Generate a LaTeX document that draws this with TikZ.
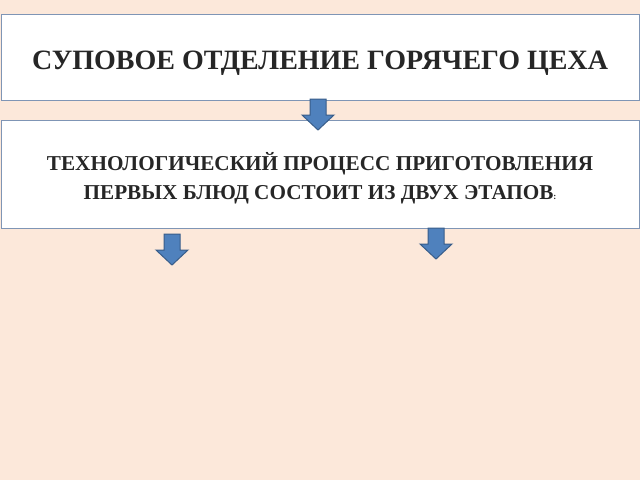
\documentclass[tikz,border=0pt]{standalone}
\usepackage{fontspec}
\setmainfont{Liberation Serif}
\definecolor{bg}{HTML}{FCE8DA}
\definecolor{bord}{HTML}{7F95B5}
\definecolor{arr}{HTML}{4F81BD}
\definecolor{arrb}{HTML}{385D8A}
\begin{document}
\begin{tikzpicture}[x=1pt,y=-1pt,
  box/.style={draw=bord,line width=1pt,fill=white,anchor=north west,inner sep=0pt,align=center,text=black!85},
  barrow/.pic={\filldraw[fill=arr,draw=arrb,line width=1pt] (-8,0) -- (8,0) -- (8,16) -- (16,16) -- (0,31) -- (-16,16) -- (-8,16) -- cycle;}]
\fill[bg] (0,0) rectangle (640,480);
\useasboundingbox (0,0) rectangle (640,480);
\draw[bord,line width=1pt,fill=white] (1,14) rectangle (639,100);
\node[align=center,text=black!85,font=\fontsize{28}{32}\selectfont\bfseries] (t) at (320,63) {СУПОВОЕ ОТДЕЛЕНИЕ ГОРЯЧЕГО ЦЕХА};
\draw[bord,line width=1pt,fill=white] (1,120) rectangle (639,228);
\node[align=center,text=black!85,font=\fontsize{21.2}{29}\selectfont\bfseries] (s) at (320,178) {ТЕХНОЛОГИЧЕСКИЙ ПРОЦЕСС ПРИГОТОВЛЕНИЯ\\ПЕРВЫХ БЛЮД СОСТОИТ ИЗ ДВУХ ЭТАПОВ{\fontsize{9}{10}\selectfont:}};
\pic at (318,99) {barrow};
\pic at (172,234) {barrow};
\pic at (436,228) {barrow};
\end{tikzpicture}
\end{document}
